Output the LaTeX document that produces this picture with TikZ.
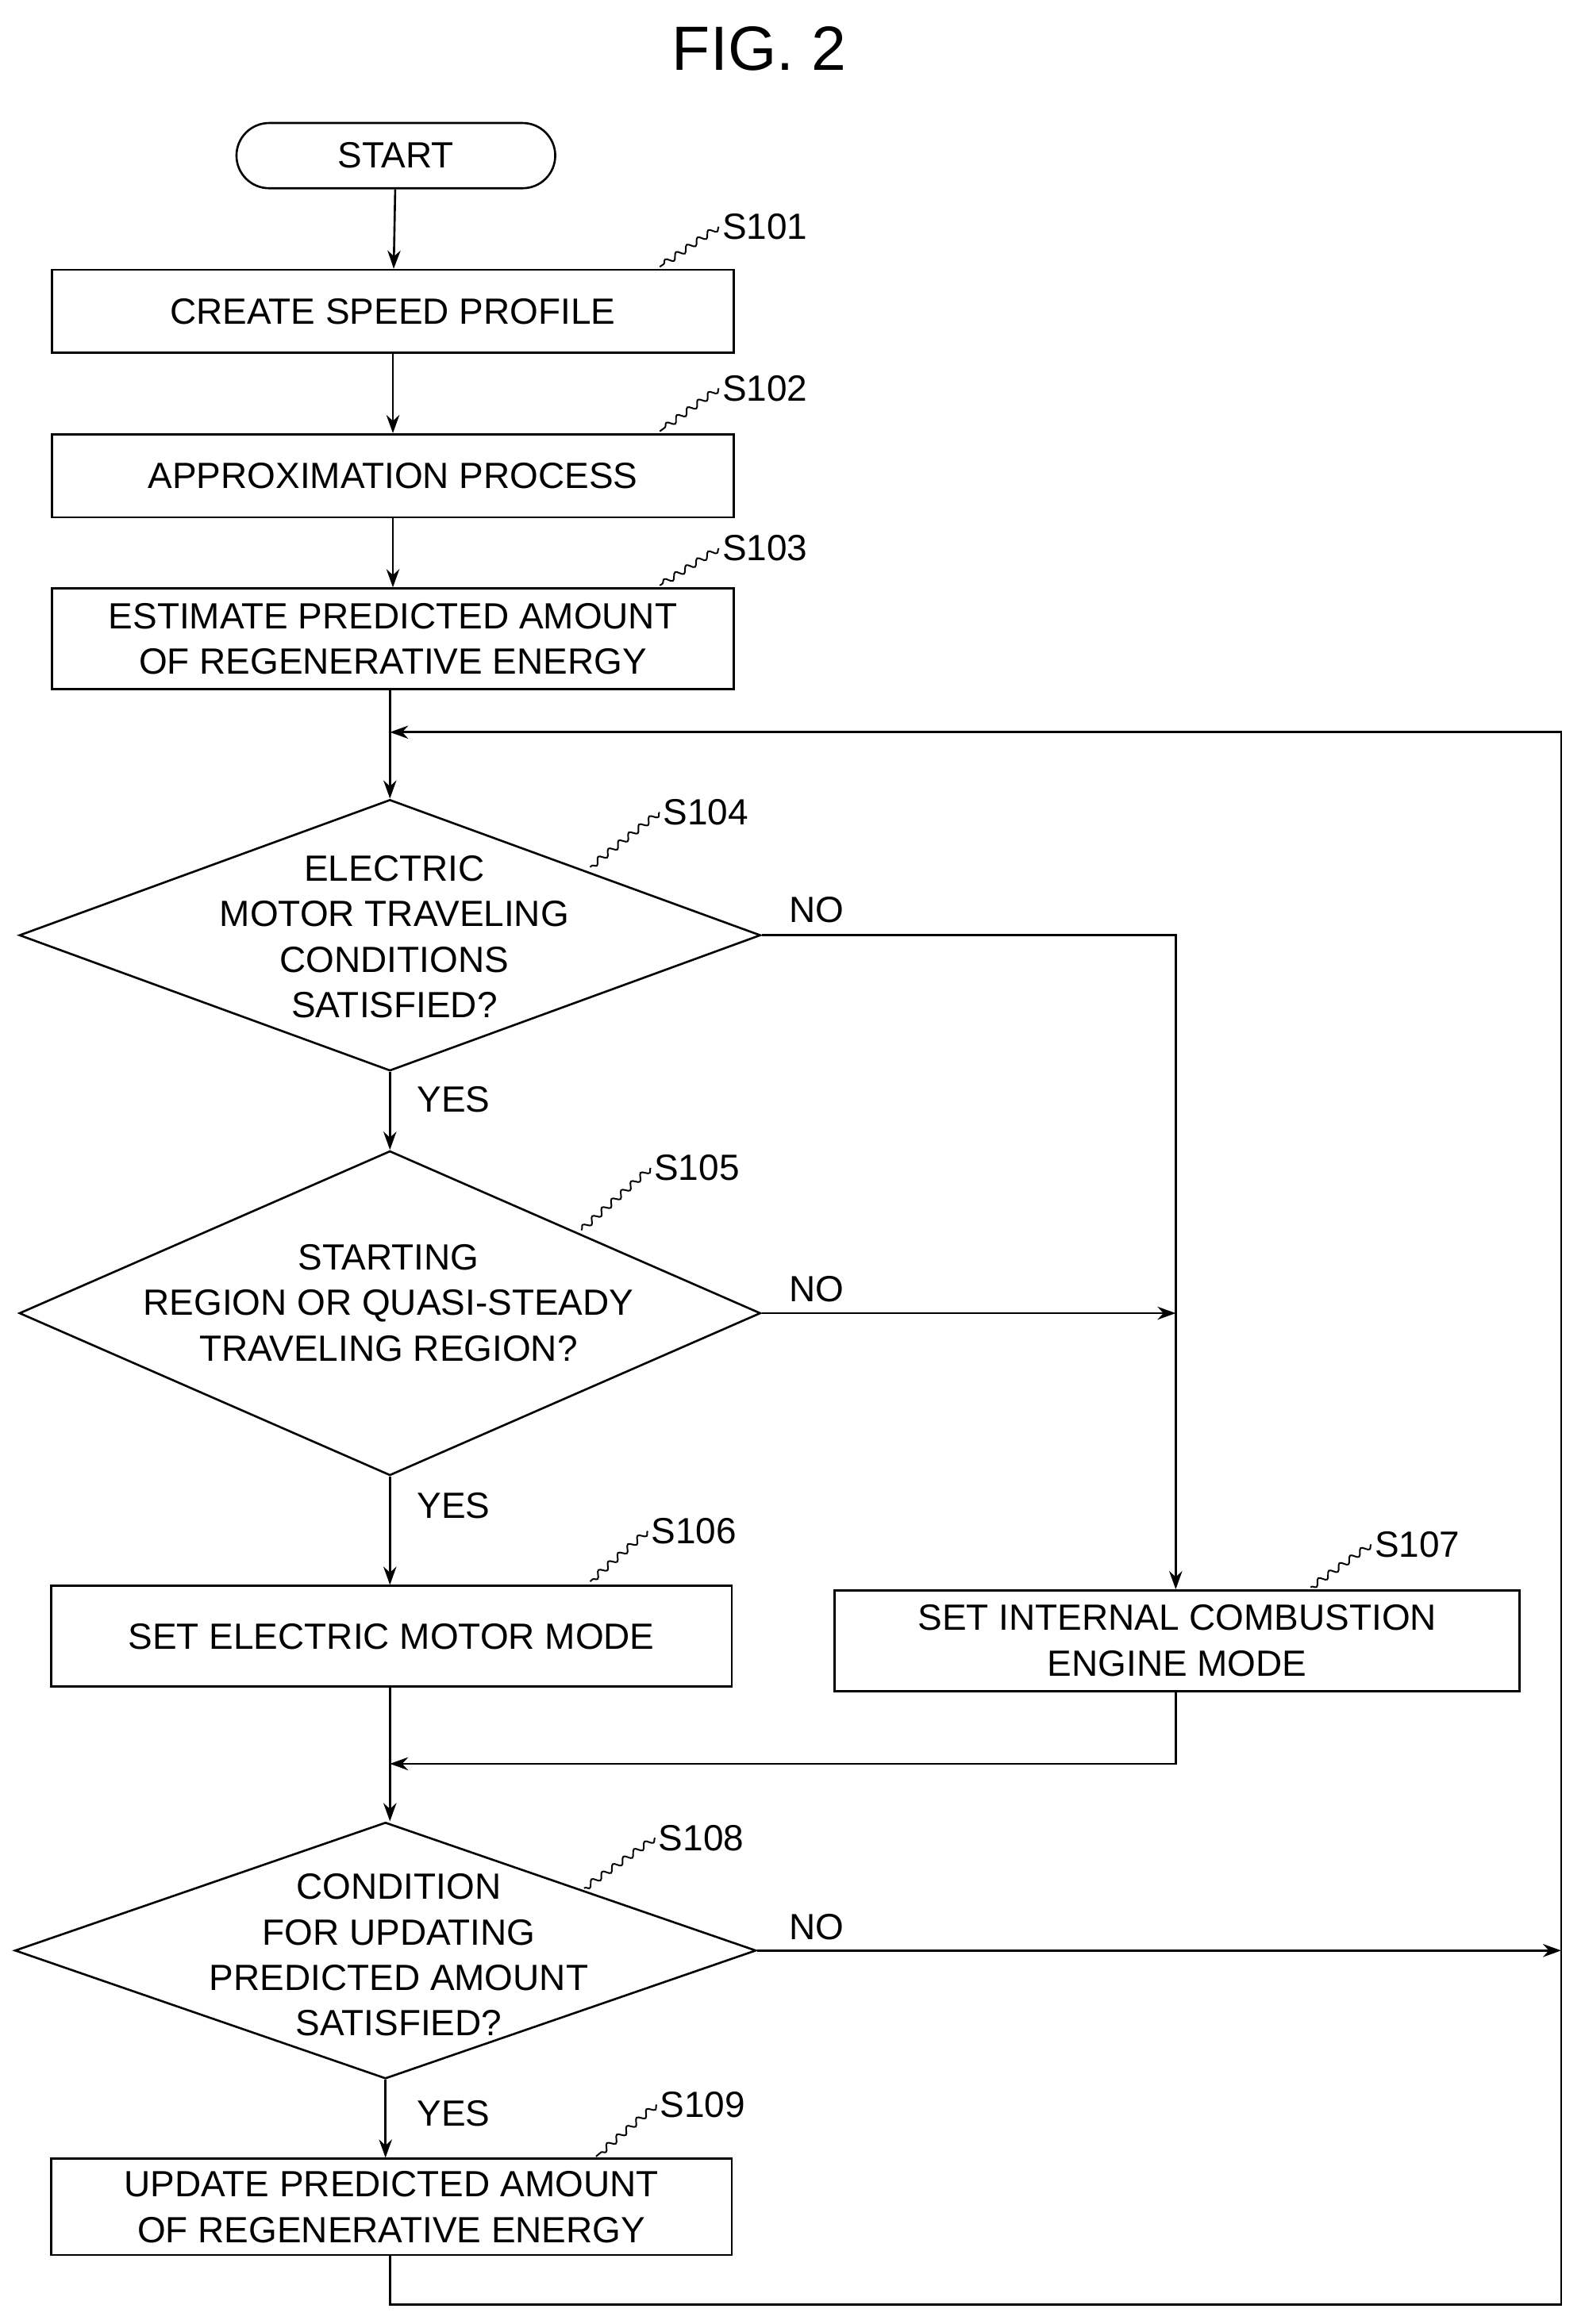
\documentclass[tikz,border=0pt]{standalone}
\usepackage{fontspec}
\setmainfont{Liberation Sans}
\usetikzlibrary{arrows.meta,shapes.geometric,decorations.pathmorphing}
\tikzstyle{box} = [draw,line width=0.8pt,inner sep=0pt,align=center]
\tikzstyle{dia} = [draw,line width=0.8pt,diamond,inner sep=0pt]
\tikzstyle{txt} = [align=center,inner sep=0pt,font=\fontsize{14}{17.5}\selectfont]
\tikzstyle{lab} = [inner sep=1pt,font=\fontsize{14}{17}\selectfont]
\tikzstyle{wig} = [line width=0.6pt,decorate,decoration={snake,amplitude=1.2pt,segment length=5pt}]
\begin{document}
\begin{tikzpicture}[x=0.02cm,y=-0.02cm,>={Stealth[length=7pt,width=5pt]},line width=0.8pt]
\useasboundingbox (0,0) rectangle (1069,1568);

% title
    \node[font=\fontsize{24}{28}\selectfont] at (512,33) (title) {FIG. 2};

% steps
    \node[box,rounded corners=22*0.02cm,minimum width=215*0.02cm,minimum height=44*0.02cm,txt] at (267,105) (start) {START};
    \node[box,minimum width=460*0.02cm,minimum height=56*0.02cm,txt] at (265,210) (s101) {CREATE SPEED PROFILE};
    \node[box,minimum width=460*0.02cm,minimum height=56*0.02cm,txt] at (265,321) (s102) {APPROXIMATION PROCESS};
    \node[box,minimum width=460*0.02cm,minimum height=68*0.02cm,txt] at (265,431) (s103) {ESTIMATE PREDICTED AMOUNT\\OF REGENERATIVE ENERGY};
    \node[dia,minimum width=500*0.02cm,minimum height=183*0.02cm] at (263,631) (s104) {};
    \node[txt] at (266,632) (t104) {ELECTRIC\\MOTOR TRAVELING\\CONDITIONS\\SATISFIED?};
    \node[dia,minimum width=500*0.02cm,minimum height=219*0.02cm] at (263,886) (s105) {};
    \node[txt] at (262,879) (t105) {STARTING\\REGION OR QUASI-STEADY\\TRAVELING REGION?};
    \node[box,minimum width=459*0.02cm,minimum height=68*0.02cm,txt] at (264,1104) (s106) {SET ELECTRIC MOTOR MODE};
    \node[box,minimum width=462*0.02cm,minimum height=68*0.02cm,txt] at (794,1107) (s107) {SET INTERNAL COMBUSTION\\ENGINE MODE};
    \node[dia,minimum width=500*0.02cm,minimum height=173*0.02cm] at (260,1316) (s108) {};
    \node[txt] at (269,1319) (t108) {CONDITION\\FOR UPDATING\\PREDICTED AMOUNT\\SATISFIED?};
    \node[box,minimum width=459*0.02cm,minimum height=65*0.02cm,txt] at (264,1489) (s109) {UPDATE PREDICTED AMOUNT\\OF REGENERATIVE ENERGY};

% step labels
    \node[lab] at (516,153) (l101) {S101};
    \node[lab] at (516,262) (l102) {S102};
    \node[lab] at (516,370) (l103) {S103};
    \node[lab] at (476,548) (l104) {S104};
    \node[lab] at (470,788) (l105) {S105};
    \node[lab] at (468,1033) (l106) {S106};
    \node[lab] at (956,1042) (l107) {S107};
    \node[lab] at (473,1240) (l108) {S108};
    \node[lab] at (474,1420) (l109) {S109};
    \draw[wig] (l101.west) -- (445,180);
    \draw[wig] (l102.west) -- (445,291);
    \draw[wig] (l103.west) -- (445,395);
    \draw[wig] (l104.west) -- (398,585);
    \draw[wig] (l105.west) -- (392,830);
    \draw[wig] (l106.west) -- (398,1067);
    \draw[wig] (l107.west) -- (884,1071);
    \draw[wig] (l108.west) -- (394,1274);
    \draw[wig] (l109.west) -- (402,1455);

% yes / no
    \node[lab] at (306,742) (y104) {YES};
    \node[lab] at (306,1016) (y105) {YES};
    \node[lab] at (306,1426) (y108) {YES};
    \node[lab] at (551,614) (n104) {NO};
    \node[lab] at (551,870) (n105) {NO};
    \node[lab] at (551,1300) (n108) {NO};

% connectors
    \coordinate (loop) at (263,494);
    \coordinate (join) at (263,1190);
    \coordinate (right) at (1053,1316);
    \coordinate (mid) at (793,886);
    \draw[->] (start) -- (s101);
    \draw[->] (s101) -- (s102);
    \draw[->] (s102) -- (s103);
    \draw[->] (s103.south -| s104.north) -- (s104.north);
    \draw[->] (s104.south) -- (s105.north);
    \draw[->] (s105.south) -- (s105.south |- s106.north);
    \draw[->] (s104.east) -| (s107.north -| mid);
    \draw[->] (s105.east) -- (mid);
    \draw (s106.south -| join) -- (join);
    \draw[->] (join) -- (join |- s108.north);
    \draw[->] (s107.south -| mid) |- (join);
    \draw[->] (s108.east) -- (right);
    \draw[->] (s108.south) -- (s108.south |- s109.north);
    \draw[->] (s109.south -| join) -- (263,1555) -| (right) |- (loop);
\end{tikzpicture}
\end{document}
